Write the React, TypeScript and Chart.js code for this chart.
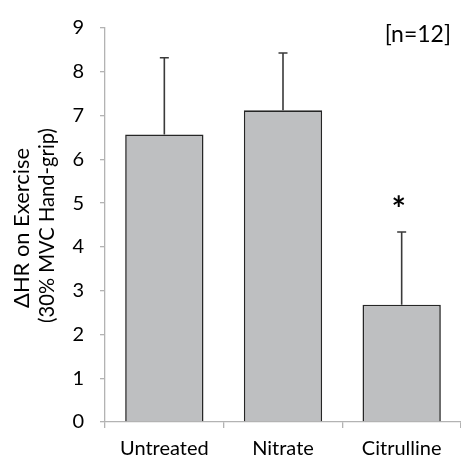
import React, { useEffect, useRef } from "react";
import { Chart, registerables } from "chart.js";

Chart.register(...registerables);

const categories = ["Untreated", "Nitrate", "Citrulline"];
const means = [6.57, 7.12, 2.68];
const errors = [1.75, 1.31, 1.66];
const significant = [false, false, true];
const yTicks = [0, 1, 2, 3, 4, 5, 6, 7, 8, 9];
const yTitle = "\u0394HR on Exercise";
const ySubtitle = "(30% MVC Hand-grip)";
const note = "[n=12]";

const FONT = "Lato, 'Open Sans', sans-serif";
const AXIS_GREY = "#b3b3b3";

function fitText(ctx: CanvasRenderingContext2D, text: string, target: number) {
  ctx.font = `100px ${FONT}`;
  const w = ctx.measureText(text).width;
  return (100 * target) / w;
}

export default function App() {
  const ref = useRef<HTMLCanvasElement | null>(null);

  useEffect(() => {
    const canvas = ref.current;
    if (!canvas) return;

    const extras = {
      id: "extras",
      afterDatasetsDraw(chart: any) {
        const ctx = chart.ctx;
        const meta = chart.getDatasetMeta(0);
        const ys = chart.scales.y;
        ctx.save();
        meta.data.forEach((bar: any, i: number) => {
          const x = bar.x;
          const yTop = ys.getPixelForValue(means[i] + errors[i]);
          const yBase = ys.getPixelForValue(means[i]);
          ctx.strokeStyle = "#3a3a3a";
          ctx.lineWidth = 1.6;
          ctx.beginPath();
          ctx.moveTo(x, yBase);
          ctx.lineTo(x, yTop);
          ctx.moveTo(x - 4.5, yTop);
          ctx.lineTo(x + 4.5, yTop);
          ctx.stroke();
          if (significant[i]) {
            ctx.fillStyle = "#000";
            ctx.font = `bold 34px ${FONT}`;
            ctx.textAlign = "center";
            ctx.textBaseline = "middle";
            ctx.fillText("*", x - 3, yTop - 22);
          }
        });
        ctx.restore();
      },
      afterDraw(chart: any) {
        const ctx = chart.ctx;
        const area = chart.chartArea;
        ctx.save();
        ctx.fillStyle = "#000";
        ctx.font = `23px ${FONT}`;
        ctx.textAlign = "right";
        ctx.textBaseline = "middle";
        ctx.fillText(note, area.right - 10, 35);

        const mainSize = fitText(ctx, yTitle, 160);
        const subSize = fitText(ctx, ySubtitle, 195);
        ctx.textAlign = "center";
        ctx.textBaseline = "middle";

        ctx.save();
        ctx.translate(22, 228);
        ctx.rotate(-Math.PI / 2);
        ctx.font = `${mainSize}px ${FONT}`;
        ctx.fillText(yTitle, 0, 0);
        ctx.restore();

        ctx.save();
        ctx.translate(47, 225.5);
        ctx.rotate(-Math.PI / 2);
        ctx.font = `${subSize}px ${FONT}`;
        ctx.fillText(ySubtitle, 0, 0);
        ctx.restore();

        ctx.restore();
      },
    };

    const chart = new Chart(canvas, {
      type: "bar",
      data: {
        labels: categories,
        datasets: [
          {
            data: means,
            backgroundColor: "#bebfc1",
            borderColor: "#262626",
            borderWidth: 1.6,
            categoryPercentage: 1,
            barPercentage: 0.66,
          },
        ],
      },
      options: {
        animation: false,
        responsive: false,
        maintainAspectRatio: false,
        layout: { padding: { top: 22, left: 0, right: 0, bottom: 0 } },
        plugins: {
          legend: { display: false },
          tooltip: { enabled: false },
          title: { display: false },
        },
        scales: {
          x: {
            type: "category",
            offset: true,
            grid: {
              display: true,
              offset: true,
              drawOnChartArea: false,
              drawTicks: true,
              tickLength: 6,
              color: AXIS_GREY,
              lineWidth: 1.3,
            },
            border: { display: true, color: AXIS_GREY, width: 1.3 },
            ticks: {
              color: "#000",
              font: { family: FONT, size: 20 },
              padding: 9,
              maxRotation: 0,
            },
            afterFit(scale: any) {
              scale.height = 35;
            },
          },
          y: {
            min: 0,
            max: 9,
            afterBuildTicks(scale: any) {
              scale.ticks = yTicks.map((v) => ({ value: v }));
            },
            grid: {
              display: true,
              drawOnChartArea: false,
              drawTicks: true,
              tickLength: 5,
              color: AXIS_GREY,
              lineWidth: 1.3,
            },
            border: { display: true, color: AXIS_GREY, width: 1.3 },
            ticks: {
              color: "#000",
              font: { family: FONT, size: 20 },
              padding: 16,
            },
            afterFit(scale: any) {
              scale.width = 105;
            },
          },
        },
      },
      plugins: [extras],
    });

    return () => chart.destroy();
  }, []);

  return (
    <div style={{ position: "fixed", left: 0, top: 0, width: 461, height: 457, background: "#fff" }}>
      <canvas ref={ref} width={461} height={457} style={{ display: "block", width: 461, height: 457 }} />
    </div>
  );
}
